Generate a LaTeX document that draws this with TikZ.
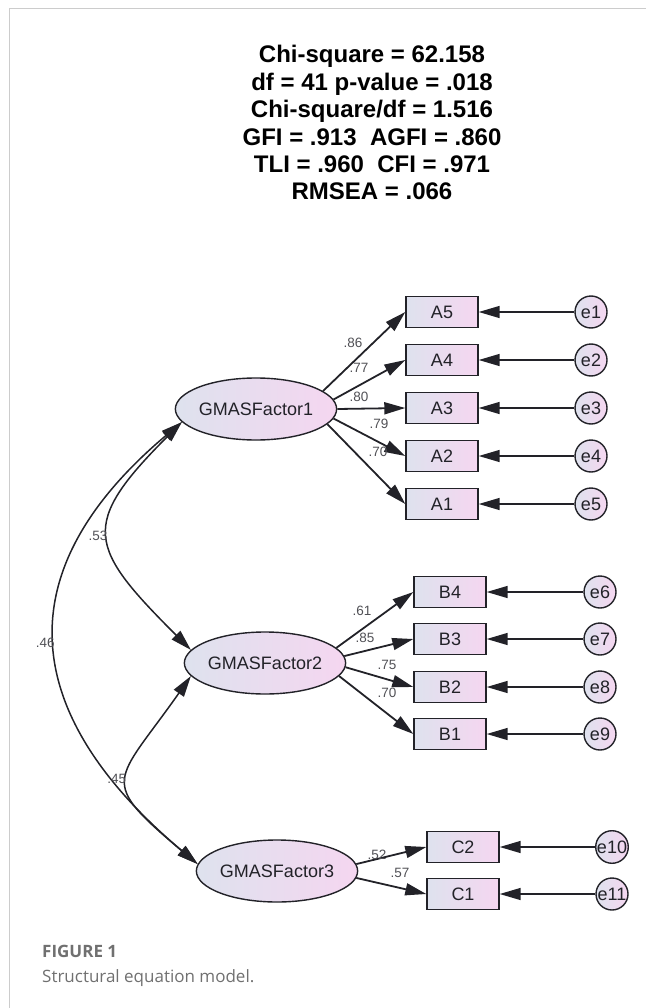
\documentclass[tikz,border=0pt]{standalone}
\usepackage{fontspec}
\setmainfont{Liberation Sans}
\newfontfamily\captionfont{Open Sans}
\usepackage{tikz}
\usetikzlibrary{arrows.meta, shapes.geometric}
\definecolor{shadeleft}{RGB}{222,226,238}
\definecolor{shaderight}{RGB}{245,214,240}
\definecolor{inkcolor}{RGB}{34,34,40}
\definecolor{coefcolor}{RGB}{80,80,85}
\definecolor{framecolor}{RGB}{204,204,204}
\definecolor{captioncolor}{RGB}{112,112,112}

\tikzset{
  fitstat/.style={anchor=base, inner sep=0pt, text=black,
    font=\fontsize{24}{24}\selectfont\bfseries},
  factor/.style={ellipse, draw=inkcolor, line width=1.4pt,
    left color=shadeleft, right color=shaderight,
    minimum width=146pt, minimum height=62pt, inner sep=0pt,
    text=inkcolor, font=\fontsize{18}{18}\selectfont},
  indicator/.style={rectangle, draw=inkcolor, line width=1.4pt,
    left color=shadeleft, right color=shaderight,
    minimum width=72pt, minimum height=31pt, inner sep=0pt,
    text=inkcolor, font=\fontsize{18}{18}\selectfont},
  errterm/.style={circle, draw=inkcolor, line width=1.4pt,
    left color=shadeleft, right color=shaderight,
    minimum size=32pt, inner sep=0pt,
    text=inkcolor, font=\fontsize{18}{18}\selectfont},
  loading/.style={draw=inkcolor, line width=1.8pt, -{Triangle[length=21pt,width=12pt]}},
  errpath/.style={draw=inkcolor, line width=1.5pt, -{Triangle[length=21pt,width=12pt]}},
  covar/.style={draw=inkcolor, line width=1.5pt,
    {Triangle[length=21pt,width=12pt]}-{Triangle[length=21pt,width=12pt]}},
  coef/.style={inner sep=1pt, text=coefcolor, font=\fontsize{13.5}{13.5}\selectfont},
  figcap/.style={anchor=base west, inner sep=0pt, text=captioncolor,
    font=\captionfont\fontsize{17}{17}\selectfont},
}

\begin{document}
\begin{tikzpicture}[x=1pt, y=-1pt]
\useasboundingbox (0,0) rectangle (646,1008);
% page frame
\draw[framecolor, line width=1pt] (9,1008) -- (9,9) -- (646,9);

% fit statistics
\foreach \txt [count=\i] in {Chi-square = 62.158, df = 41 p-value = .018,
    Chi-square/df = 1.516, GFI = .913\ \ AGFI = .860,
    TLI = .960\ \ CFI = .971, RMSEA = .066}
  \node[fitstat] (fit\i) at (372,{63+27.4*(\i-1)}) {\txt};

% latent factors
\node[factor] (f1) at (256,409) {GMASFactor1};
\node[factor] (f2) at (265,663) {GMASFactor2};
\node[factor] (f3) at (277,871) {GMASFactor3};

% indicators of factor 1
\foreach \n/\y/\e/\ang in {A5/312/1/15, A4/360/2/7, A3/408/3/0, A2/456/4/-7, A1/504/5/-12} {
  \node[indicator] (\n) at (442,\y) {\n};
  \node[errterm] (e\e) at (591,\y) {e\e};
  \draw[loading] (f1.\ang) -- (\n.west);
  \draw[errpath] (e\e) -- (\n.east);
}
\foreach \n/\lab/\lx/\ly in {A5/.86/353/343, A4/.77/359/368, A3/.80/359/397,
    A2/.79/379/424, A1/.70/378/452}
  \node[coef] (w\n) at (\lx,\ly) {\lab};

% indicators of factor 2
\foreach \n/\y/\e/\ang in {B4/592/6/12, B3/639/7/5, B2/687/8/-3, B1/734/9/-10} {
  \node[indicator] (\n) at (450,\y) {\n};
  \node[errterm] (e\e) at (600,\y) {e\e};
  \draw[loading] (f2.\ang) -- (\n.west);
  \draw[errpath] (e\e) -- (\n.east);
}
\foreach \n/\lab/\lx/\ly in {B4/.61/362/611, B3/.85/365/638, B2/.75/387/665, B1/.70/387/693}
  \node[coef] (w\n) at (\lx,\ly) {\lab};

% indicators of factor 3
\foreach \n/\y/\e/\ang in {C2/847/10/5, C1/894/11/-5} {
  \node[indicator] (\n) at (463,\y) {\n};
  \node[errterm] (e\e) at (612,\y) {e\e};
  \draw[loading] (f3.\ang) -- (\n.west);
  \draw[errpath] (e\e) -- (\n.east);
}
\foreach \n/\lab/\lx/\ly in {C2/.52/377/855, C1/.57/400/873}
  \node[coef] (w\n) at (\lx,\ly) {\lab};

% covariances
\draw[covar] (f1.190) .. controls +(-103,103) and +(-103,-103) .. (f2.170)
  node[coef, pos=0.5, left] (r12) {.53};
\draw[covar] (f1.190) .. controls +(-178,150) and +(-178,-150) .. (f3.175)
  node[coef, pos=0.5, left] (r13) {.46};
\draw[covar] (f2.190) .. controls +(-76,108) and +(-101,-85) .. (f3.175)
  node[coef, pos=0.5, left] (r23) {.45};

% caption
\node[figcap, font=\captionfont\bfseries\fontsize{17}{17}\selectfont] (figlabel) at (42,957) {FIGURE 1};
\node[figcap] (figtext) at (42,982) {Structural equation model.};
\end{tikzpicture}
\end{document}
